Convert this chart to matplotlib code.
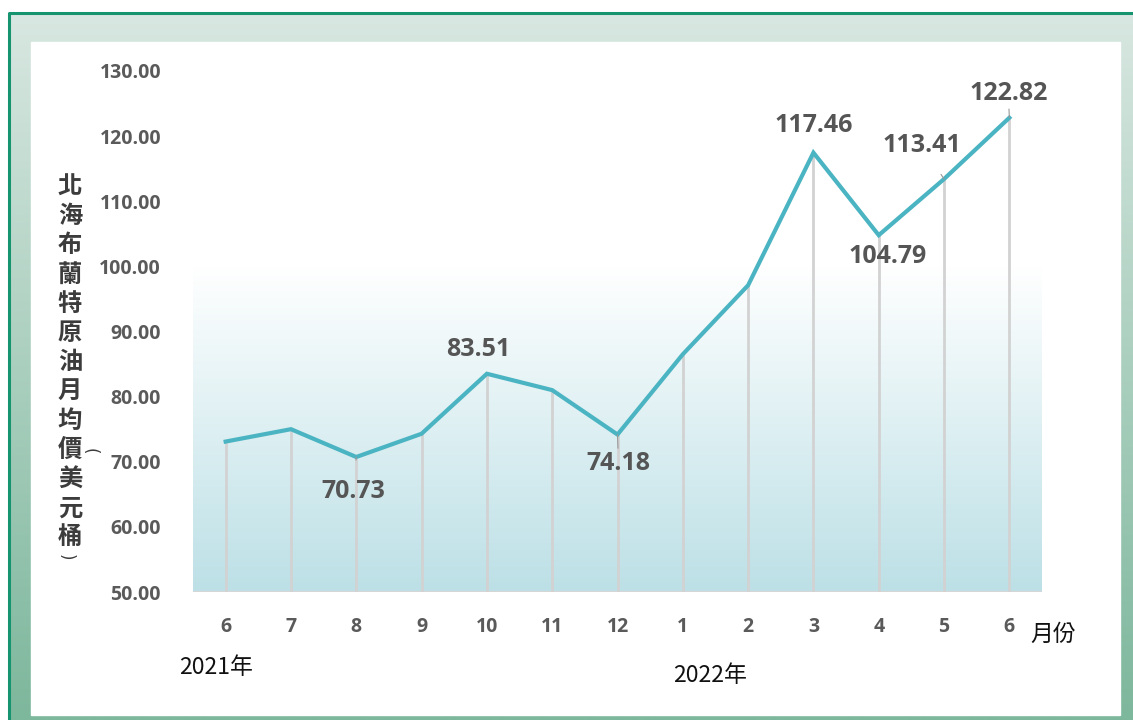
import numpy as np
import matplotlib
matplotlib.use('Agg')
import matplotlib.pyplot as plt
from matplotlib.colors import LinearSegmentedColormap

plt.rcParams['font.family'] = ['Open Sans', 'Noto Sans CJK TC', 'DejaVu Sans']

months = ['6', '7', '8', '9', '10', '11', '12', '1', '2', '3', '4', '5', '6']
prices = [73.1, 75.0, 70.73, 74.3, 83.51, 81.0, 74.18, 86.5, 97.1, 117.46, 104.79, 113.41, 122.82]
yticks = [50, 60, 70, 80, 90, 100, 110, 120, 130]
ylabel_chars = ['北', '海', '布', '蘭', '特', '原', '油', '月', '均', '價', '美', '元', '桶']

# labels shown on the chart: index -> (dx px, dy px, leader line?)
labelled = {2: (-3, -35, True), 4: (-9, 24, False), 6: (1, -29, True),
            9: (0, 27, False), 10: (9, -21, False), 11: (-22, 34, True),
            12: (-1, 24, True)}

W, H = 1133, 720
fig = plt.figure(figsize=(W / 100, H / 100), dpi=100)

# background frame drawn in pixel coordinates
bg = fig.add_axes([0, 0, 1, 1])
bg.set_xlim(0, W)
bg.set_ylim(H, 0)
bg.axis('off')
frame_cmap = LinearSegmentedColormap.from_list('frame', ['#d8e7e1', '#7db79c'])
grad = np.linspace(0, 1, 256).reshape(-1, 1)
bg.imshow(grad, cmap=frame_cmap, extent=(9, W, H, 13), aspect='auto', zorder=0)
bg.plot([9, 9, W], [H, 13, 13], color='#16936f', lw=2.2, zorder=2)
bg.add_patch(plt.Rectangle((31, 42), 1089, 673, color='white', zorder=1))

ax = fig.add_axes([193 / W, (H - 592) / H, (1042 - 193) / W, (592 - 71) / H])
ax.set_xlim(-0.5, 12.5)
ax.set_ylim(50, 130)
ax.patch.set_alpha(0)
for s in ax.spines.values():
    s.set_visible(False)
ax.axhline(50, color='#d6d6d6', lw=1.5, zorder=1)

# gradient fill of the lower plot region
fill_cmap = LinearSegmentedColormap.from_list('fill', ['#bce0e6', '#ffffff'])
ax.imshow(grad, cmap=fill_cmap, extent=(-0.5, 12.5, 50, 100), aspect='auto',
          origin='lower', zorder=0)

x = np.arange(len(months))
ax.vlines(x, 50, prices, color='#d2d2d2', lw=2, zorder=2)
ax.plot(x, prices, color='#4bb4c2', lw=3, zorder=3, solid_joinstyle='miter')

ax.set_xticks(x)
ax.set_xticklabels(months)
ax.set_yticks(yticks)
ax.set_yticklabels([f'{v:.2f}' for v in yticks])
ax.tick_params(length=0, labelsize=14, labelcolor='#5a5a5a')
ax.tick_params(axis='y', pad=23)
ax.tick_params(axis='x', pad=18)
for lab in ax.get_xticklabels() + ax.get_yticklabels():
    lab.set_fontweight('bold')

for i, (dx, dy, leader) in labelled.items():
    ax.annotate(f'{prices[i]:.2f}', (x[i], prices[i]),
                xytext=(dx * 0.72, dy * 0.72), textcoords='offset points',
                ha='center', va='center', fontsize=18, fontweight='bold',
                color='#555555', zorder=4,
                arrowprops=dict(arrowstyle='-', color='#999999', lw=0.8,
                                shrinkA=12, shrinkB=0) if leader else None)

# vertical y label
for k, ch in enumerate(ylabel_chars):
    bg.text(70, 187 + k * 29.2, ch, ha='center', va='center', fontsize=17.5,
            color='#3c3c3c', fontweight='bold', family=['Noto Sans CJK TC'])
bg.text(90, 451, '(', ha='center', va='center', fontsize=12, color='#3c3c3c',
        rotation=-90, family=['DejaVu Sans'])
bg.text(66, 557, ')', ha='center', va='center', fontsize=12, color='#3c3c3c',
        rotation=-90, family=['DejaVu Sans'])

bg.text(216, 668, '2021年', ha='center', va='center', fontsize=16.5, color='#111111',
        family=['Noto Sans CJK TC'])
bg.text(710, 676, '2022年', ha='center', va='center', fontsize=16.5, color='#111111',
        family=['Noto Sans CJK TC'])
bg.text(1053, 634, '月份', ha='center', va='center', fontsize=16.5, color='#111111',
        family=['Noto Sans CJK TC'])

fig.savefig('out.png', dpi=100)
